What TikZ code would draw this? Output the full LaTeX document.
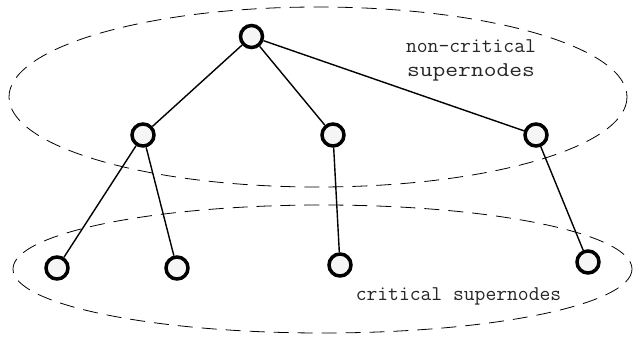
\documentclass[tikz,border=0pt]{standalone}
\usepackage{fontspec}
\usetikzlibrary{shapes.geometric}
\begin{document}
\begin{tikzpicture}[x=1pt,y=-1pt,
  tnode/.style={circle,draw=black,line width=3.5pt,fill=black!4,minimum size=22pt,inner sep=0pt},
  tedge/.style={line width=1.4pt,black},
  group/.style={dashed,dash pattern=on 15pt off 9pt,line width=0.8pt,black},
  lbl/.style={font=\ttfamily\fontsize{21}{23}\selectfont,text=black!85,inner sep=0pt,anchor=center}]
\useasboundingbox (0,0) rectangle (634,340);
\draw[group] (318,97) ellipse [x radius=309, y radius=90];
\draw[group] (322.5,269) ellipse [x radius=309.5, y radius=64];
\node[tnode] (r) at (251.5,36.5) {};
\node[tnode] (m1) at (143,135) {};
\node[tnode] (m2) at (333,135) {};
\node[tnode] (m3) at (536,135) {};
\node[tnode] (b1) at (57,268) {};
\node[tnode] (b2) at (177,268) {};
\node[tnode] (b3) at (340,265) {};
\node[tnode] (b4) at (588,262) {};
\draw[tedge] (r) -- (m1);
\draw[tedge] (r) -- (m2);
\draw[tedge] (r) -- (m3);
\draw[tedge] (m1) -- (b1);
\draw[tedge] (m1) -- (b2);
\draw[tedge] (m2) -- (b3);
\draw[tedge] (m3) -- (b4);
\node[lbl] (nc1) at (471,46) {non-critical};
\node[lbl] (nc2) at (471,72) {\scalebox{1.18}[1]{supernodes}};
\node[lbl] (cs) at (458.5,296) {critical supernodes};
\end{tikzpicture}
\end{document}
